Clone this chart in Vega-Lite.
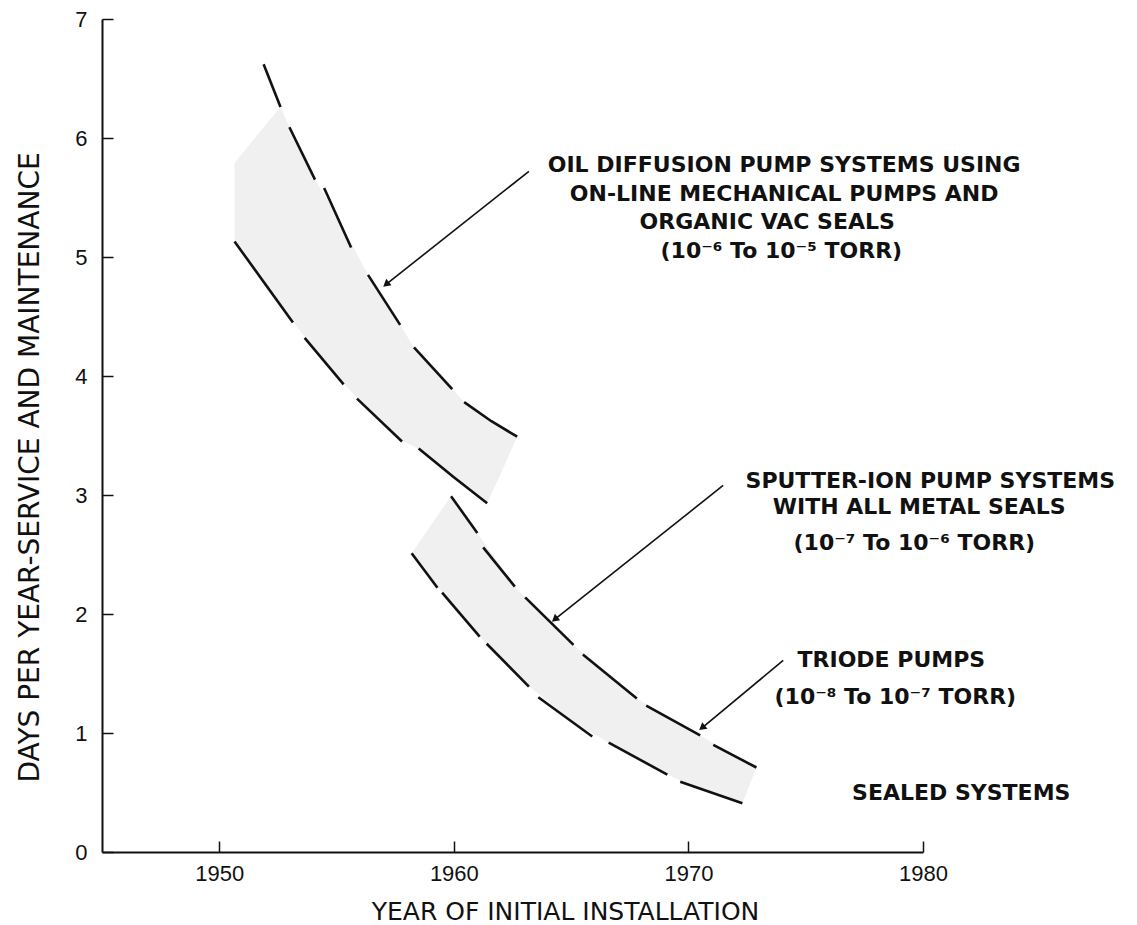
{
  "$schema": "https://vega.github.io/schema/vega-lite/v6.json",
  "width": 821,
  "height": 833,
  "autosize": {"type": "none"},
  "padding": {"left": 102, "top": 19, "right": 214, "bottom": 73},
  "background": "white",
  "config": {"view": {"stroke": null}, "font": "DejaVu Sans"},
  "datasets": {
    "bands": [
      {"band": "oil", "x": 1950.65, "hi": 5.79, "lo": 5.13},
      {"band": "oil", "x": 1951.6, "hi": 6.02, "lo": 4.87},
      {"band": "oil", "x": 1952.61, "hi": 6.26, "lo": 4.59},
      {"band": "oil", "x": 1953.0, "hi": 6.09, "lo": 4.49},
      {"band": "oil", "x": 1954.08, "hi": 5.65, "lo": 4.22},
      {"band": "oil", "x": 1955.0, "hi": 5.35, "lo": 4.0},
      {"band": "oil", "x": 1956.34, "hi": 4.85, "lo": 3.72},
      {"band": "oil", "x": 1957.71, "hi": 4.43, "lo": 3.46},
      {"band": "oil", "x": 1958.3, "hi": 4.24, "lo": 3.41},
      {"band": "oil", "x": 1959.93, "hi": 3.89, "lo": 3.15},
      {"band": "oil", "x": 1960.44, "hi": 3.78, "lo": 3.08},
      {"band": "oil", "x": 1961.42, "hi": 3.64, "lo": 2.93},
      {"band": "oil", "x": 1962.0, "hi": 3.57, "lo": 3.18},
      {"band": "oil", "x": 1962.7, "hi": 3.49, "lo": 3.49},
      {"band": "ion", "x": 1958.2, "hi": 2.51, "lo": 2.51},
      {"band": "ion", "x": 1959.0, "hi": 2.74, "lo": 2.3},
      {"band": "ion", "x": 1959.88, "hi": 2.99, "lo": 2.09},
      {"band": "ion", "x": 1961.0, "hi": 2.68, "lo": 1.83},
      {"band": "ion", "x": 1962.6, "hi": 2.23, "lo": 1.51},
      {"band": "ion", "x": 1963.04, "hi": 2.14, "lo": 1.42},
      {"band": "ion", "x": 1965.1, "hi": 1.74, "lo": 1.09},
      {"band": "ion", "x": 1966.6, "hi": 1.48, "lo": 0.92},
      {"band": "ion", "x": 1967.8, "hi": 1.29, "lo": 0.79},
      {"band": "ion", "x": 1969.1, "hi": 1.13, "lo": 0.65},
      {"band": "ion", "x": 1970.5, "hi": 0.98, "lo": 0.53},
      {"band": "ion", "x": 1972.3, "hi": 0.77, "lo": 0.41},
      {"band": "ion", "x": 1972.9, "hi": 0.71, "lo": 0.71}
    ],
    "edges": [
      {"seg": "OU1", "x": 1951.89, "y": 6.62}, {"seg": "OU1", "x": 1952.61, "y": 6.26},
      {"seg": "OU2", "x": 1952.99, "y": 6.09}, {"seg": "OU2", "x": 1954.08, "y": 5.65},
      {"seg": "OU3", "x": 1954.47, "y": 5.58}, {"seg": "OU3", "x": 1955.62, "y": 5.08},
      {"seg": "OU4", "x": 1956.34, "y": 4.85}, {"seg": "OU4", "x": 1957.71, "y": 4.43},
      {"seg": "OU5", "x": 1958.3, "y": 4.24}, {"seg": "OU5", "x": 1959.93, "y": 3.89},
      {"seg": "OU6", "x": 1960.44, "y": 3.78}, {"seg": "OU6", "x": 1961.6, "y": 3.62}, {"seg": "OU6", "x": 1962.7, "y": 3.49},
      {"seg": "OL1", "x": 1950.65, "y": 5.13}, {"seg": "OL1", "x": 1953.14, "y": 4.45},
      {"seg": "OL2", "x": 1953.64, "y": 4.32}, {"seg": "OL2", "x": 1955.3, "y": 3.93},
      {"seg": "OL3", "x": 1955.87, "y": 3.81}, {"seg": "OL3", "x": 1957.79, "y": 3.45},
      {"seg": "OL4", "x": 1958.5, "y": 3.39}, {"seg": "OL4", "x": 1960.0, "y": 3.15}, {"seg": "OL4", "x": 1961.42, "y": 2.93},
      {"seg": "IU1", "x": 1959.88, "y": 2.99}, {"seg": "IU1", "x": 1961.0, "y": 2.68},
      {"seg": "IU2", "x": 1961.25, "y": 2.56}, {"seg": "IU2", "x": 1962.6, "y": 2.23},
      {"seg": "IU3", "x": 1963.04, "y": 2.14}, {"seg": "IU3", "x": 1965.1, "y": 1.74},
      {"seg": "IU4", "x": 1965.5, "y": 1.66}, {"seg": "IU4", "x": 1967.8, "y": 1.29},
      {"seg": "IU5", "x": 1968.2, "y": 1.23}, {"seg": "IU5", "x": 1970.5, "y": 0.98},
      {"seg": "IU6", "x": 1971.06, "y": 0.9}, {"seg": "IU6", "x": 1972.9, "y": 0.71},
      {"seg": "IL1", "x": 1958.2, "y": 2.51}, {"seg": "IL1", "x": 1959.3, "y": 2.22},
      {"seg": "IL2", "x": 1959.5, "y": 2.18}, {"seg": "IL2", "x": 1961.1, "y": 1.81},
      {"seg": "IL3", "x": 1961.4, "y": 1.75}, {"seg": "IL3", "x": 1963.2, "y": 1.39},
      {"seg": "IL4", "x": 1963.6, "y": 1.3}, {"seg": "IL4", "x": 1965.9, "y": 0.97},
      {"seg": "IL5", "x": 1966.6, "y": 0.92}, {"seg": "IL5", "x": 1969.1, "y": 0.65},
      {"seg": "IL6", "x": 1969.65, "y": 0.59}, {"seg": "IL6", "x": 1972.3, "y": 0.41}
    ],
    "arrows": [
      {"x": 1963.2, "y": 5.72, "hx": 1957.11, "hy": 4.77},
      {"x": 1971.48, "y": 3.08, "hx": 1964.3, "hy": 1.955},
      {"x": 1974.04, "y": 1.61, "hx": 1970.58, "hy": 1.044}
    ],
    "notes": [
      {"text": "OIL DIFFUSION PUMP SYSTEMS USING", "x": 1974.08, "y": 5.77},
      {"text": "ON-LINE MECHANICAL PUMPS  AND", "x": 1974.08, "y": 5.53},
      {"text": "ORGANIC VAC SEALS", "x": 1973.36, "y": 5.29},
      {"text": "(10⁻⁶ To 10⁻⁵ TORR)", "x": 1973.96, "y": 5.05},
      {"text": "SPUTTER-ION PUMP SYSTEMS", "x": 1980.31, "y": 3.12},
      {"text": "WITH ALL METAL SEALS", "x": 1979.84, "y": 2.9},
      {"text": "(10⁻⁷ To 10⁻⁶ TORR)", "x": 1979.63, "y": 2.6},
      {"text": "TRIODE PUMPS", "x": 1978.65, "y": 1.61},
      {"text": "(10⁻⁸ To 10⁻⁷ TORR)", "x": 1978.82, "y": 1.3},
      {"text": "SEALED SYSTEMS", "x": 1981.63, "y": 0.5}
    ]
  },
  "layer": [
    {
      "data": {"name": "bands"},
      "mark": {"type": "area", "color": "#8a8a8a", "opacity": 0.13},
      "encoding": {
        "x": {
          "field": "x", "type": "quantitative",
          "scale": {"domain": [1945, 1980], "nice": false, "zero": false},
          "axis": {
            "title": "YEAR OF INITIAL INSTALLATION",
            "values": [1950, 1960, 1970, 1980],
            "format": "d",
            "grid": false,
            "labelFlush": false,
            "domainColor": "#111", "domainWidth": 2,
            "tickColor": "#111", "tickWidth": 1.5, "tickSize": -11,
            "labelPadding": 22, "labelFontSize": 22, "labelColor": "#111",
            "labelFont": "Liberation Sans",
            "titleFont": "DejaVu Sans", "titleFontSize": 25, "titleFontWeight": "normal", "titleColor": "#111",
            "titleX": 463, "titleY": 67, "titleAlign": "center", "titleBaseline": "alphabetic"
          }
        },
        "y": {
          "field": "hi", "type": "quantitative",
          "scale": {"domain": [0, 7], "nice": false},
          "axis": {
            "title": "DAYS PER YEAR-SERVICE AND MAINTENANCE",
            "values": [0, 1, 2, 3, 4, 5, 6, 7],
            "format": "d",
            "grid": false,
            "domainColor": "#111", "domainWidth": 2,
            "tickColor": "#111", "tickWidth": 1.5, "tickSize": -11,
            "labelPadding": 26, "labelFontSize": 22, "labelColor": "#111",
            "labelFont": "Liberation Sans",
            "titleFont": "DejaVu Sans", "titleFontSize": 28, "titleFontWeight": "normal", "titleColor": "#111",
            "titleX": -72, "titleY": 448, "titleAlign": "center", "titleBaseline": "middle"
          }
        },
        "y2": {"field": "lo"},
        "detail": {"field": "band"}
      }
    },
    {
      "data": {"name": "edges"},
      "mark": {"type": "line", "color": "#111", "strokeWidth": 2.6},
      "encoding": {
        "x": {"field": "x", "type": "quantitative", "title": "YEAR OF INITIAL INSTALLATION"},
        "y": {"field": "y", "type": "quantitative", "title": "DAYS PER YEAR-SERVICE AND MAINTENANCE"},
        "detail": {"field": "seg"}
      }
    },
    {
      "data": {"name": "arrows"},
      "mark": {"type": "rule", "color": "#111", "strokeWidth": 1.6},
      "encoding": {
        "x": {"field": "x", "type": "quantitative", "title": "YEAR OF INITIAL INSTALLATION"},
        "y": {"field": "y", "type": "quantitative", "title": "DAYS PER YEAR-SERVICE AND MAINTENANCE"},
        "x2": {"field": "hx"},
        "y2": {"field": "hy"}
      }
    },
    {
      "data": {"name": "arrows"},
      "mark": {"type": "point", "shape": "triangle-up", "filled": true, "size": 70, "angle": 231, "color": "#111", "opacity": 1, "strokeWidth": 0},
      "encoding": {
        "x": {"field": "hx", "type": "quantitative", "title": "YEAR OF INITIAL INSTALLATION"},
        "y": {"field": "hy", "type": "quantitative", "title": "DAYS PER YEAR-SERVICE AND MAINTENANCE"}
      }
    },
    {
      "data": {"name": "notes"},
      "mark": {"type": "text", "font": "DejaVu Sans", "fontSize": 22, "fontWeight": "bold", "color": "#111", "align": "center", "baseline": "middle"},
      "encoding": {
        "x": {"field": "x", "type": "quantitative", "title": "YEAR OF INITIAL INSTALLATION"},
        "y": {"field": "y", "type": "quantitative", "title": "DAYS PER YEAR-SERVICE AND MAINTENANCE"},
        "text": {"field": "text"}
      }
    }
  ]
}
